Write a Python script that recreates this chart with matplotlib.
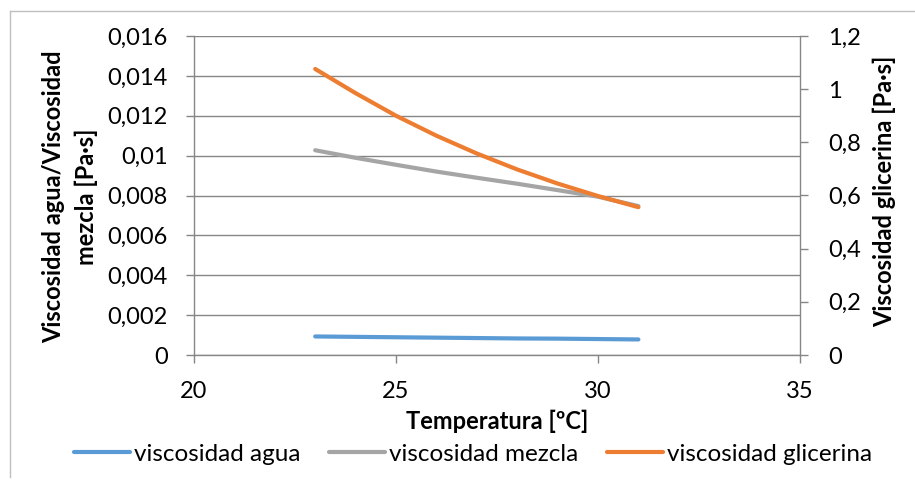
import matplotlib
matplotlib.use("Agg")
import matplotlib.pyplot as plt
from matplotlib.ticker import FuncFormatter

plt.rcParams['font.family'] = ['Lato', 'DejaVu Sans']

# temperatura [ºC]
temperatura = [23, 24, 25, 26, 27, 28, 29, 30, 31]
# viscosidades [Pa·s]
visc_agua = [0.00093, 0.00091, 0.00089, 0.00087, 0.00085, 0.00083, 0.00082, 0.0008, 0.00078]
visc_mezcla = [0.01027, 0.00989, 0.00954, 0.0092, 0.00889, 0.00859, 0.00827, 0.00794, 0.00747]
visc_glicerina = [1.076, 0.985, 0.9, 0.825, 0.758, 0.698, 0.645, 0.598, 0.556]

series_names = ["viscosidad agua", "viscosidad mezcla", "viscosidad glicerina"]
colors = ["#5B9BD5", "#A5A5A5", "#ED7D31"]

left_ticks = [0, 0.002, 0.004, 0.006, 0.008, 0.01, 0.012, 0.014, 0.016]
right_ticks = [0, 0.2, 0.4, 0.6, 0.8, 1, 1.2]
x_ticks = [20, 25, 30, 35]

W, H = 915, 486
fig = plt.figure(figsize=(W / 100, H / 100), dpi=100)

# area del grafico en pixeles
x0, x1, y_top, y_bot = 194, 800, 36, 355
ax = fig.add_axes([x0 / W, 1 - y_bot / H, (x1 - x0) / W, (y_bot - y_top) / H])
ax2 = ax.twinx()

def comma(v, pos):
    s = ("%.3f" % v).rstrip("0").rstrip(".")
    return s.replace(".", ",")

grid_c = "#868686"
ax.set_xlim(20, 35)
ax.set_ylim(0, 0.016)
ax2.set_ylim(0, 1.2)
ax.set_xticks(x_ticks)
ax.set_yticks(left_ticks)
ax2.set_yticks(right_ticks)
ax.yaxis.set_major_formatter(FuncFormatter(comma))
ax2.yaxis.set_major_formatter(FuncFormatter(comma))

for a in (ax, ax2):
    for s in a.spines.values():
        s.set_visible(False)
ax.spines['left'].set_visible(True)
ax.spines['bottom'].set_visible(True)
ax2.spines['right'].set_visible(True)
for s in (ax.spines['left'], ax.spines['bottom'], ax2.spines['right']):
    s.set_color(grid_c)
    s.set_linewidth(1)

ax.grid(axis='y', color=grid_c, linewidth=1)
ax.set_axisbelow(True)

ax.tick_params(axis='x', length=6, width=1, color=grid_c, pad=13, labelsize=17)
ax.tick_params(axis='y', length=6, width=1, color=grid_c, pad=13, labelsize=17)
ax2.tick_params(axis='y', length=6, width=1, color=grid_c, pad=14, labelsize=17)

l1, = ax.plot(temperatura, visc_agua, color=colors[0], lw=3, solid_capstyle='round')
l2, = ax.plot(temperatura, visc_mezcla, color=colors[1], lw=3, solid_capstyle='round')
l3, = ax2.plot(temperatura, visc_glicerina, color=colors[2], lw=3, solid_capstyle='round')

fig.text(70 / W, 1 - 197 / H, "Viscosidad agua/Viscosidad\nmezcla [Pa·s]",
         rotation=90, ha='center', va='center', fontsize=17, fontweight='bold',
         linespacing=1.45, multialignment='center')
fig.text(884 / W, 1 - 191 / H, "Viscosidad glicerina [Pa·s]",
         rotation=90, ha='center', va='center', fontsize=17, fontweight='bold')
fig.text(497 / W, 1 - 421 / H, "Temperatura [ºC]", ha='center', va='center',
         fontsize=17, fontweight='bold')

fig.legend([l1, l2, l3], series_names, loc='center', bbox_to_anchor=(473 / W, 1 - 454 / H),
           ncol=3, frameon=False, fontsize=17.5, handlelength=2.3, handletextpad=0.15,
           columnspacing=1.2, borderaxespad=0)

# marco del grafico (solo borde izquierdo y superior visibles)
fig.add_artist(plt.Line2D([10 / W, 10 / W], [1 - 477 / H, 1 - 11 / H], color="#BFBFBF", lw=1,
                          transform=fig.transFigure))
fig.add_artist(plt.Line2D([10 / W, 1], [1 - 11 / H, 1 - 11 / H], color="#BFBFBF", lw=1,
                          transform=fig.transFigure))

fig.savefig("out.png", dpi=100)
